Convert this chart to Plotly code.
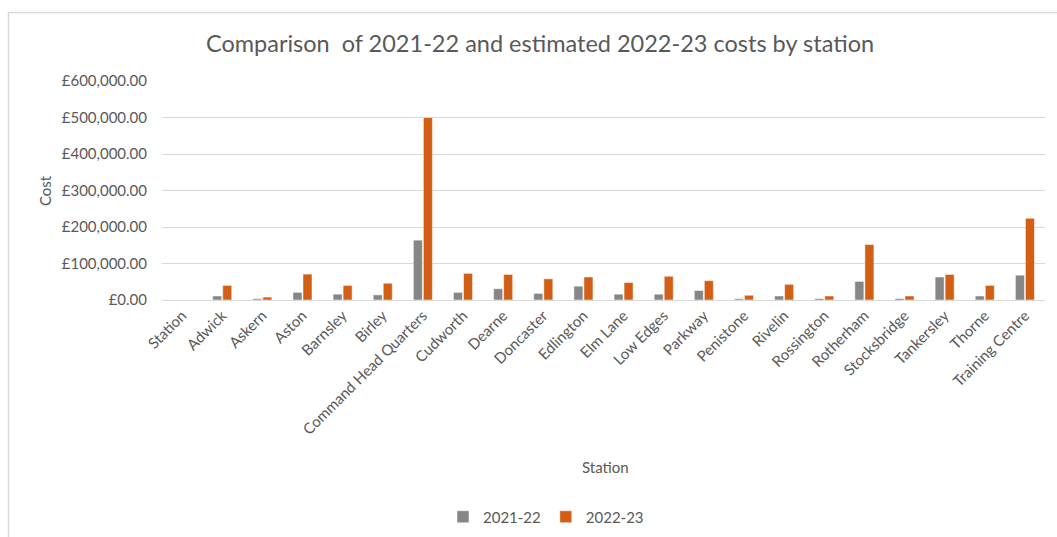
import plotly.graph_objects as go

stations = ["Station", "Adwick", "Askern", "Aston", "Barnsley", "Birley", "Command Head Quarters",
            "Cudworth", "Dearne", "Doncaster", "Edlington", "Elm Lane", "Low Edges", "Parkway",
            "Penistone", "Rivelin", "Rossington", "Rotherham", "Stocksbridge", "Tankersley",
            "Thorne", "Training Centre"]
costs_2021_22 = [0, 11000, 3500, 21000, 16000, 14000, 164000, 21000, 31000, 18000, 38000, 16000,
                 16000, 26000, 3500, 11000, 4000, 51000, 4000, 63000, 11000, 68000]
costs_2022_23 = [0, 40000, 8000, 71000, 40000, 46000, 500000, 73000, 70000, 58000, 63000, 48000,
                 65000, 53000, 13000, 43000, 11000, 152000, 11000, 70000, 40000, 224000]

FONT = "Lato"
TXT = "#595959"
L, R, T, B = 162, 12, 81, 237
PW, PH = 1057 - L - R, 537 - T - B


def px(x):
    return (x - L) / PW


def py(y):
    return (537 - B - y) / PH


fig = go.Figure()
fig.add_trace(go.Bar(name="2021-22", x=stations, y=costs_2021_22,
                     marker=dict(color="#868686", line=dict(color="white", width=0.5))))
fig.add_trace(go.Bar(name="2022-23", x=stations, y=costs_2022_23,
                     marker=dict(color="#D16016", line=dict(color="white", width=0.5))))

fig.update_layout(
    width=1057, height=537,
    margin=dict(l=L, r=R, t=T, b=B, autoexpand=False),
    paper_bgcolor="white", plot_bgcolor="white",
    font=dict(family=FONT, color=TXT, size=15),
    title=dict(text="Comparison  of 2021-22 and estimated 2022-23 costs by station",
               x=px(540), xanchor="center", xref="paper", y=1 - 44 / 537, yanchor="middle",
               font=dict(family=FONT, size=23.5, color=TXT)),
    barmode="group", bargap=0.5, bargroupgap=0.1,
    legend=dict(orientation="h", x=px(546), xanchor="center", y=py(517), yanchor="middle",
                font=dict(size=15, color=TXT), traceorder="normal", itemwidth=30),
    xaxis=dict(tickangle=-45, showgrid=False, showline=True, linecolor="#D9D9D9", linewidth=1,
               ticks="", tickfont=dict(size=15, color=TXT)),
    yaxis=dict(range=[0, 600000], dtick=100000, tickprefix="£", tickformat=",.2f",
               showgrid=True, gridcolor="#D9D9D9", gridwidth=1, zeroline=False,
               showline=False, ticks="", ticklabelstandoff=14, tickfont=dict(size=15, color=TXT)),
    annotations=[
        dict(text="Station", x=px(605), y=py(467), xref="paper", yref="paper",
             xanchor="center", yanchor="middle", showarrow=False,
             font=dict(size=15, color=TXT)),
        dict(text="Cost", x=px(45), y=py(190), xref="paper", yref="paper", textangle=-90,
             xanchor="center", yanchor="middle", showarrow=False,
             font=dict(size=15, color=TXT)),
    ],
)

fig.add_shape(type="rect", xref="paper", yref="paper",
              x0=px(8.5), x1=px(1070), y0=py(550), y1=py(12.5),
              line=dict(color="#D9D9D9", width=1.5), fillcolor="rgba(0,0,0,0)", layer="below")

fig.write_html("out.html", config={"displayModeBar": False},
               post_script="document.body.style.margin='0';document.body.style.overflow='hidden';")
